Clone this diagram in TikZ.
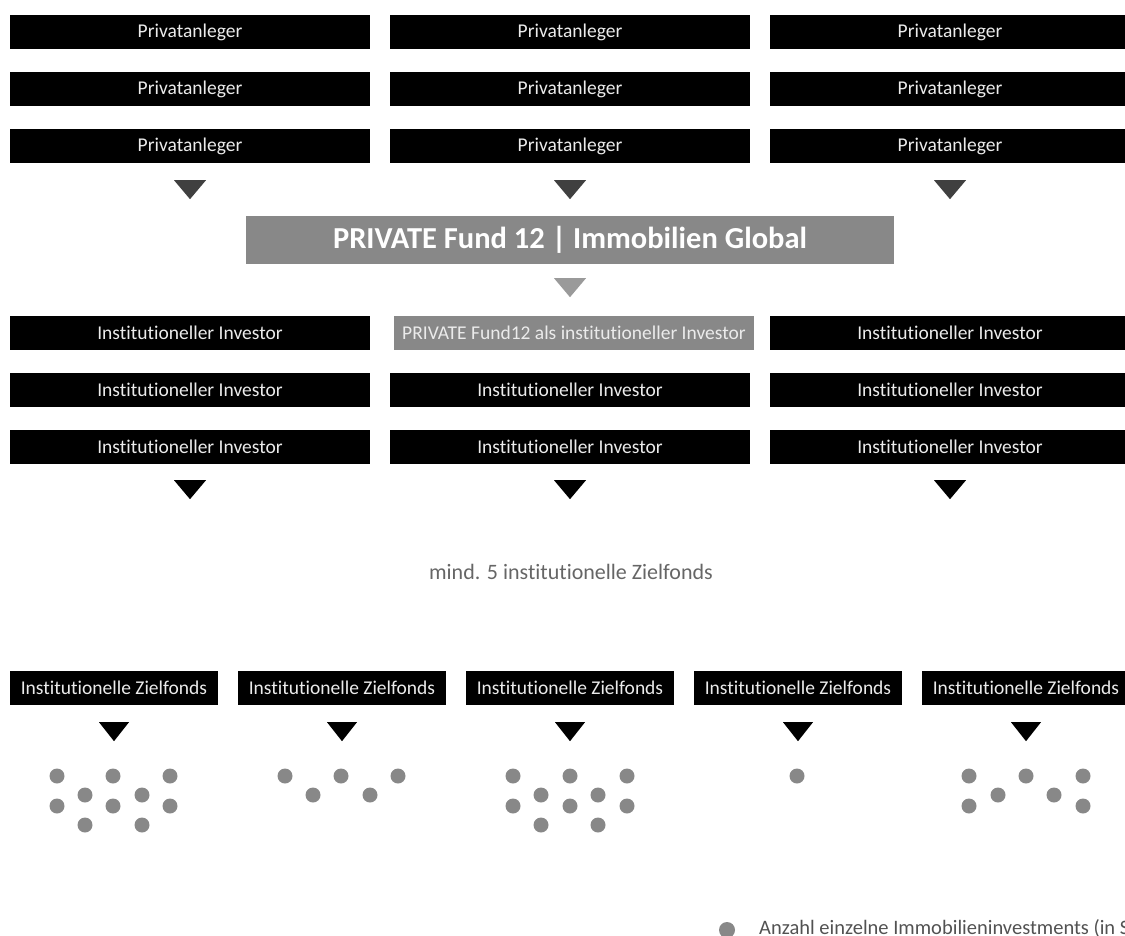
\documentclass[tikz,border=0pt]{standalone}
\usepackage{fontspec}
\setmainfont{Carlito}[Ligatures=NoCommon]
\usetikzlibrary{positioning}

\definecolor{fondsgrau}{HTML}{888888}
\definecolor{pfeilgrau}{HTML}{404040}
\definecolor{textgrau}{HTML}{666666}

\tikzset{
    balken/.style={fill=black, text=white!92!black, inner sep=0pt, minimum height=34pt, minimum width=360pt, font=\fontsize{19.5}{23}\selectfont},
    graubalken/.style={balken, fill=fondsgrau},
    zielbalken/.style={balken, minimum width=208pt},
    punkt/.style={fill=fondsgrau}
}

\begin{document}
\begin{tikzpicture}[x=1pt, y=-1pt]
        \useasboundingbox (0,0) rectangle (1125,935);

        % Privatanleger
        \node[balken] (p11) at (190,32) {Privatanleger};
        \node[balken] (p12) at (570,32) {Privatanleger};
        \node[balken] (p13) at (950,32) {Privatanleger};
        \node[balken] (p21) at (190,89) {Privatanleger};
        \node[balken] (p22) at (570,89) {Privatanleger};
        \node[balken] (p23) at (950,89) {Privatanleger};
        \node[balken] (p31) at (190,146) {Privatanleger};
        \node[balken] (p32) at (570,146) {Privatanleger};
        \node[balken] (p33) at (950,146) {Privatanleger};
        \fill[pfeilgrau] (p31.south) ++(-16,17) -- ++(32,0) -- ++(-16,19) -- cycle;
        \fill[pfeilgrau] (p32.south) ++(-16,17) -- ++(32,0) -- ++(-16,19) -- cycle;
        \fill[pfeilgrau] (p33.south) ++(-16,17) -- ++(32,0) -- ++(-16,19) -- cycle;

        % Fonds
        \node[graubalken, minimum width=648pt, minimum height=48pt, text=white, font=\fontsize{30.5}{36}\selectfont\bfseries] (fonds) at (570,240) {PRIVATE Fund 12 | Immobilien Global};
        \fill[fondsgrau!85!white] (fonds.south) ++(-16,14) -- ++(32,0) -- ++(-16,19) -- cycle;

        % institutionelle Investoren
        \node[balken] (i11) at (190,333) {Institutioneller Investor};
        \node[graubalken] (i12) at (574,333) {PRIVATE Fund12 als institutioneller Investor};
        \node[balken] (i13) at (950,333) {Institutioneller Investor};
        \node[balken] (i21) at (190,390) {Institutioneller Investor};
        \node[balken] (i22) at (570,390) {Institutioneller Investor};
        \node[balken] (i23) at (950,390) {Institutioneller Investor};
        \node[balken] (i31) at (190,447) {Institutioneller Investor};
        \node[balken] (i32) at (570,447) {Institutioneller Investor};
        \node[balken] (i33) at (950,447) {Institutioneller Investor};
        \fill (i31.south) ++(-16,16) -- ++(32,0) -- ++(-16,19) -- cycle;
        \fill (i32.south) ++(-16,16) -- ++(32,0) -- ++(-16,19) -- cycle;
        \fill (i33.south) ++(-16,16) -- ++(32,0) -- ++(-16,19) -- cycle;

        \node[text=textgrau, font=\fontsize{22}{26}\selectfont] (mind) at (571,572) {mind. 5 institutionelle Zielfonds};

        % Zielfonds
        \node[zielbalken] (z1) at (114,688) {Institutionelle Zielfonds};
        \node[zielbalken] (z2) at (342,688) {Institutionelle Zielfonds};
        \node[zielbalken] (z3) at (570,688) {Institutionelle Zielfonds};
        \node[zielbalken] (z4) at (798,688) {Institutionelle Zielfonds};
        \node[zielbalken] (z5) at (1026,688) {Institutionelle Zielfonds};
        \fill (z1.south) ++(-15,17) -- ++(30,0) -- ++(-15,19) -- cycle;
        \fill (z2.south) ++(-15,17) -- ++(30,0) -- ++(-15,19) -- cycle;
        \fill (z3.south) ++(-15,17) -- ++(30,0) -- ++(-15,19) -- cycle;
        \fill (z4.south) ++(-15,17) -- ++(30,0) -- ++(-15,19) -- cycle;
        \fill (z5.south) ++(-15,17) -- ++(30,0) -- ++(-15,19) -- cycle;

        % Immobilieninvestments
        \foreach \x/\y in {57/776, 113/776, 170/776, 85/795, 142/795, 57/806, 113/806, 170/806, 85/825, 142/825}
            \fill[punkt] (\x,\y) circle (7.5);
        \foreach \x/\y in {285/776, 341/776, 398/776, 313/795, 370/795}
            \fill[punkt] (\x,\y) circle (7.5);
        \foreach \x/\y in {513/776, 570/776, 627/776, 541/795, 598/795, 513/806, 570/806, 627/806, 541/825, 598/825}
            \fill[punkt] (\x,\y) circle (7.5);
        \fill[punkt] (797,776) circle (7.5);
        \foreach \x/\y in {969/776, 1026/776, 1083/776, 998/795, 1054/795, 969/806, 1083/806}
            \fill[punkt] (\x,\y) circle (7.5);

        % Legende
        \fill[punkt] (727,930) circle (8);
        \node[anchor=base west, inner sep=0pt, text=textgrau!80!black, font=\fontsize{20.5}{24}\selectfont] (legende) at (759,934) {Anzahl einzelne Immobilieninvestments (in S};
\end{tikzpicture}
\end{document}
